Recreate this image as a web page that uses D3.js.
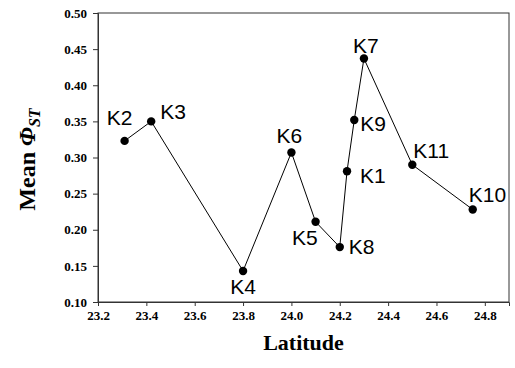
<!DOCTYPE html>
<html>
<head>
<meta charset="utf-8">
<script src="https://cdn.jsdelivr.net/npm/d3@7.8.5/dist/d3.min.js"></script>
<style>
  body { margin: 0; background: #fff; }
  svg { display: block; }
</style>
</head>
<body>
<svg width="515" height="368"></svg>
<script>
// sample sites
const sites = ["K2", "K3", "K4", "K6", "K5", "K8", "K1", "K9", "K7", "K11", "K10"];
const latitude = [23.31, 23.42, 23.8, 24.0, 24.1, 24.2, 24.23, 24.26, 24.3, 24.5, 24.75];
const meanPhiST = [0.323, 0.35, 0.143, 0.307, 0.211, 0.176, 0.281, 0.352, 0.437, 0.29, 0.228];
const xTicks = [23.2, 23.4, 23.6, 23.8, 24.0, 24.2, 24.4, 24.6, 24.8];
const yTicks = [0.10, 0.15, 0.20, 0.25, 0.30, 0.35, 0.40, 0.45, 0.50];

// where each label sits relative to its point: [dx, dy, anchor]
const labelPos = {
  K2: [-5, -16, "middle"],
  K3: [9, -2, "start"],
  K4: [0, 23, "middle"],
  K6: [-2, -9, "middle"],
  K5: [2, 23, "end"],
  K8: [9, 7, "start"],
  K1: [13, 12, "start"],
  K9: [6, 11, "start"],
  K7: [2, -6, "middle"],
  K11: [1, -7, "start"],
  K10: [-4, -8, "start"],
};

const margin = { top: 13, right: 6, bottom: 66, left: 98 };
const width = 515, height = 368;

const svg = d3.select("svg");

const x = d3.scaleLinear()
  .domain([23.2, 24.9])
  .range([margin.left, width - margin.right]);

const y = d3.scaleLinear()
  .domain([0.10, 0.50])
  .range([height - margin.bottom, margin.top]);

const serif = "'Liberation Serif', 'Times New Roman', serif";
const sans = "'Liberation Sans', Arial, sans-serif";

// frame
svg.append("rect")
  .attr("x", x(23.2))
  .attr("y", y(0.5))
  .attr("width", x(24.9) - x(23.2))
  .attr("height", y(0.1) - y(0.5))
  .attr("fill", "none")
  .attr("stroke", "#333")
  .attr("stroke-width", 1);

const xAxis = svg.append("g")
  .attr("transform", `translate(0,${y(0.1)})`)
  .call(d3.axisBottom(x).tickValues(xTicks).tickFormat(d3.format(".1f")).tickSize(4).tickPadding(5));

const yAxis = svg.append("g")
  .attr("transform", `translate(${x(23.2)},0)`)
  .call(d3.axisLeft(y).tickValues(yTicks).tickFormat(d3.format(".2f")).tickSize(5).tickPadding(6));

[xAxis, yAxis].forEach((g) => {
  g.attr("font-family", serif).attr("font-size", 13);
  g.select(".domain").attr("stroke", "#333");
  g.selectAll(".tick line").attr("stroke", "#333");
  g.selectAll(".tick text")
    .attr("font-weight", "bold")
    .attr("fill", "#000");
});

// line + points
const pts = sites.map((s, i) => ({ site: s, lat: latitude[i], phi: meanPhiST[i] }));

svg.append("path")
  .datum(pts)
  .attr("fill", "none")
  .attr("stroke", "#000")
  .attr("stroke-width", 1)
  .attr("d", d3.line().x((d) => x(d.lat)).y((d) => y(d.phi)));

svg.append("g")
  .selectAll("circle")
  .data(pts)
  .join("circle")
  .attr("cx", (d) => x(d.lat))
  .attr("cy", (d) => y(d.phi))
  .attr("r", 4.2)
  .attr("fill", "#000");

svg.append("g")
  .selectAll("text")
  .data(pts)
  .join("text")
  .attr("x", (d) => x(d.lat) + labelPos[d.site][0])
  .attr("y", (d) => y(d.phi) + labelPos[d.site][1])
  .attr("text-anchor", (d) => labelPos[d.site][2])
  .attr("font-family", sans)
  .attr("font-size", "21px")
  .attr("fill", "#000")
  .text((d) => d.site);

// axis titles
svg.append("text")
  .attr("x", (x(23.2) + x(24.9)) / 2)
  .attr("y", 350)
  .attr("text-anchor", "middle")
  .attr("font-family", serif)
  .attr("font-weight", "bold")
  .attr("font-size", "22px")
  .text("Latitude");

const yTitle = svg.append("text")
  .attr("transform", `translate(35,${(y(0.1) + y(0.5)) / 2 + 2}) rotate(-90)`)
  .attr("text-anchor", "middle")
  .attr("font-family", serif)
  .attr("font-weight", "bold")
  .attr("font-size", "24px");
yTitle.append("tspan").text("Mean ");
yTitle.append("tspan").attr("font-style", "italic").text("\u03A6");
yTitle.append("tspan").attr("font-style", "italic").attr("font-size", "16px").attr("dy", "5").text("ST");
</script>
</body>
</html>
